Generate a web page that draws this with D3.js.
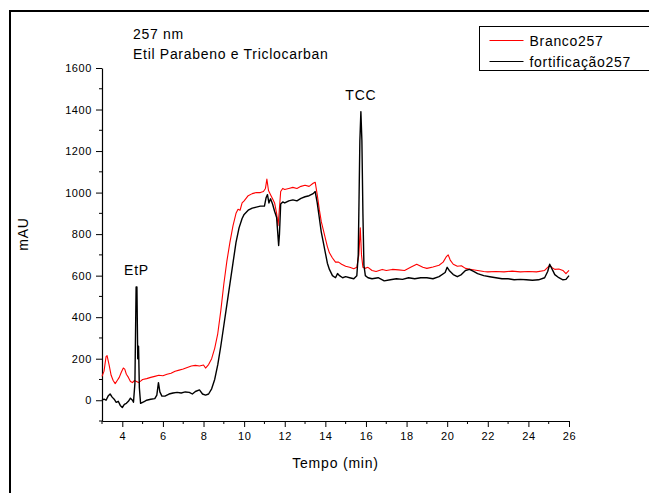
<!DOCTYPE html>
<html>
<head>
<meta charset="utf-8">
<script src="https://cdn.jsdelivr.net/npm/d3@7"></script>
<style>
  body { margin: 0; background: #fff; }
  text { font-family: "Liberation Sans", Arial, sans-serif; fill: #000; }
</style>
</head>
<body>
<div id="chart"></div>
<script>
// Cromatograma 257 nm - branco vs fortificação
const seriesNames = ["Branco257", "fortificação257"];
const seriesColors = ["#ff0000", "#000000"];

const brancoT = [3.0, 3.1, 3.2, 3.25, 3.35, 3.45, 3.55, 3.65, 3.75, 3.85, 3.95, 4.05, 4.12, 4.2, 4.3, 4.4, 4.5, 4.6, 4.7, 4.8, 4.9,
  5.0, 5.2, 5.4, 5.6, 5.8, 6.0, 6.2, 6.4, 6.6, 6.8, 7.0, 7.2, 7.4, 7.6, 7.8, 8.0, 8.1, 8.25, 8.4, 8.55, 8.7, 8.85,
  9.0, 9.15, 9.3, 9.45, 9.6, 9.7, 9.8, 9.9, 10.0, 10.2, 10.4, 10.6, 10.8, 10.95, 11.05, 11.12, 11.2, 11.3, 11.4, 11.5,
  11.6, 11.67, 11.72, 11.8, 11.9, 12.0, 12.2, 12.4, 12.6, 12.8, 13.0, 13.2, 13.4, 13.5, 13.6, 13.7, 13.8, 13.9, 14.0,
  14.1, 14.2, 14.35, 14.5, 14.65, 14.8, 15.0, 15.2, 15.4, 15.55, 15.65, 15.72, 15.78, 15.85, 15.95, 16.1, 16.3, 16.5,
  16.8, 17.0, 17.3, 17.6, 17.9, 18.2, 18.5, 18.8, 19.0, 19.3, 19.6, 19.8, 19.95, 20.05, 20.15, 20.3, 20.5, 20.7, 20.9,
  21.2, 21.5, 21.8, 22.0, 22.4, 22.8, 23.2, 23.6, 24.0, 24.4, 24.8, 24.95, 25.05, 25.15, 25.3, 25.5, 25.7, 25.85, 26.0];
const brancoV = [115, 140, 210, 215, 170, 120, 95, 80, 95, 110, 135, 155, 150, 125, 110, 90, 85, 95, 90, 85, 92,
  100, 104, 110, 115, 120, 118, 125, 130, 140, 145, 150, 158, 165, 168, 165, 170, 155, 172, 200, 250, 320, 430,
  560, 670, 760, 840, 900, 920, 915, 950, 960, 985, 995, 1000, 1000, 1005, 1020, 1065, 1010, 990, 970, 950,
  900, 840, 900, 1005, 1020, 1015, 1020, 1025, 1020, 1030, 1035, 1030, 1045, 1050, 990, 920, 860, 820, 780,
  740, 710, 685, 665, 665, 655, 645, 640, 633, 640, 700, 830, 700, 640, 635, 640, 625, 620,
  630, 625, 630, 628, 625, 640, 655, 640, 635, 642, 650, 665, 690, 700, 675, 655, 645, 648, 635,
  630, 625, 620, 618, 620, 618, 622, 618, 620, 618, 625, 640, 650, 640, 630, 632, 625, 610, 625];

const fortT = [3.0, 3.1, 3.2, 3.3, 3.4, 3.5, 3.6, 3.7, 3.8, 3.9, 4.0, 4.1, 4.2, 4.3, 4.4, 4.5, 4.55, 4.62, 4.68, 4.72, 4.76,
  4.8, 4.84, 4.9, 5.0, 5.1, 5.2, 5.4, 5.6, 5.7, 5.78, 5.85, 5.95, 6.1, 6.3, 6.5, 6.7, 6.9, 7.1, 7.3, 7.45, 7.6, 7.8,
  7.95, 8.1, 8.25, 8.4, 8.55, 8.7, 8.85, 9.0, 9.15, 9.3, 9.45, 9.6, 9.75, 9.9, 10.0, 10.2, 10.4, 10.6, 10.8, 11.0,
  11.08, 11.15, 11.22, 11.3, 11.4, 11.5, 11.6, 11.66, 11.7, 11.74, 11.8, 11.9, 12.0, 12.2, 12.4, 12.6, 12.8, 13.0,
  13.2, 13.4, 13.5, 13.6, 13.7, 13.8, 13.9, 14.0, 14.1, 14.2, 14.35, 14.5, 14.6, 14.7, 14.85, 15.0, 15.2, 15.4, 15.55,
  15.62, 15.7, 15.75, 15.8, 15.85, 15.9, 15.97, 16.1, 16.3, 16.6, 16.9, 17.2, 17.5, 17.8, 18.1, 18.4, 18.7, 19.0,
  19.3, 19.6, 19.9, 20.0, 20.1, 20.3, 20.5, 20.7, 20.9, 21.1, 21.3, 21.5, 21.8, 22.1, 22.4, 22.7, 23.0, 23.3, 23.6,
  23.9, 24.2, 24.5, 24.8, 24.95, 25.05, 25.15, 25.3, 25.5, 25.7, 25.85, 26.0];
const fortV = [0, 5, 0, 20, 30, 15, 5, -10, -5, -25, -35, -20, -15, -5, 10, 0, -10, 80, 545, 545, 200,
  260, 60, -15, -10, -5, 0, 5, 8, 25, 85, 40, 20, 20, 30, 35, 38, 35, 40, 38, 30, 42, 50,
  30, 25, 30, 55, 100, 170, 260, 360, 460, 560, 660, 760, 830, 875, 895, 915, 925, 930, 935, 935,
  975, 990, 950, 970, 945, 910, 880, 800, 745, 800, 945, 955, 950, 960, 965, 960, 972, 980,
  985, 995, 1005, 950, 880, 810, 760, 710, 660, 630, 600, 590, 610, 600, 590, 595, 590, 585, 600,
  700, 1250, 1390, 1250, 900, 650, 600, 590, 585, 590, 575, 580, 585, 582, 590, 585, 590, 590,
  585, 595, 615, 640, 625, 605, 595, 605, 625, 630, 620, 610, 600, 595, 590, 585, 585, 580, 582,
  580, 578, 580, 590, 620, 655, 635, 605, 590, 580, 582, 600];

const xTicks = [4, 6, 8, 10, 12, 14, 16, 18, 20, 22, 24, 26];
const xMinor = [3, 5, 7, 9, 11, 13, 15, 17, 19, 21, 23, 25];
const yTicks = [0, 200, 400, 600, 800, 1000, 1200, 1400, 1600];
const yMinor = [-100, 100, 300, 500, 700, 900, 1100, 1300, 1500];
const titleLines = ["257 nm", "Etil Parabeno e Triclocarban"];
const peakLabels = [{ label: "EtP", t: 4.7, v: 545 }, { label: "TCC", t: 15.75, v: 1390 }];

const width = 649, height = 493;
const plot = { left: 102, right: 569, top: 68, bottom: 421 };

const svg = d3.select("#chart").append("svg")
  .attr("width", width)
  .attr("height", height);

svg.append("rect")
  .attr("x", 10).attr("y", 11)
  .attr("width", 700).attr("height", 600)
  .attr("fill", "#fff")
  .attr("stroke", "#000")
  .attr("stroke-width", 2);

const x = d3.scaleLinear().domain([3, 26]).range([plot.left, plot.right]);
const y = d3.scaleLinear().domain([-100, 1600]).range([plot.bottom, plot.top]);

// axes
const xAxis = svg.append("g")
  .attr("transform", `translate(0,${plot.bottom})`)
  .call(d3.axisBottom(x).tickValues(xTicks).tickFormat(d3.format("d"))
    .tickSize(6).tickSizeOuter(0).tickPadding(5));
xAxis.append("g").selectAll("line")
  .data(xMinor).enter().append("line")
  .attr("x1", d => x(d)).attr("x2", d => x(d))
  .attr("y1", 0).attr("y2", 3)
  .attr("stroke", "#000");

const yAxis = svg.append("g")
  .attr("transform", `translate(${plot.left},0)`)
  .call(d3.axisLeft(y).tickValues(yTicks).tickFormat(d3.format("d"))
    .tickSize(6).tickSizeOuter(0).tickPadding(4));
yAxis.append("g").selectAll("line")
  .data(yMinor).enter().append("line")
  .attr("y1", d => y(d)).attr("y2", d => y(d))
  .attr("x1", 0).attr("x2", -3)
  .attr("stroke", "#000");

svg.selectAll(".domain").attr("stroke", "#000").attr("stroke-width", 1.2);
svg.selectAll(".tick line").attr("stroke", "#000");
svg.selectAll(".tick text")
  .attr("font-size", "11px")
  .attr("letter-spacing", "0.6px")
  .attr("fill", "#000")
  .style("font-family", "'Liberation Sans', Arial, sans-serif");

// traces
const line = d3.line().x(d => x(d[0])).y(d => y(d[1]));
const traces = [
  d3.zip(brancoT, brancoV),
  d3.zip(fortT, fortV)
];
traces.forEach((pts, i) => {
  svg.append("path")
    .datum(pts)
    .attr("d", line)
    .attr("fill", "none")
    .attr("stroke", seriesColors[i])
    .attr("stroke-width", i === 1 ? 1.4 : 1.1)
    .attr("stroke-linejoin", "round");
});

// peak labels
svg.selectAll(".peak")
  .data(peakLabels).enter().append("text")
  .attr("x", d => x(d.t))
  .attr("y", d => y(d.v) - 12)
  .attr("text-anchor", "middle")
  .attr("font-size", "14px")
  .attr("letter-spacing", "0.8px")
  .text(d => d.label);

// title
svg.selectAll(".title")
  .data(titleLines).enter().append("text")
  .attr("x", 133)
  .attr("y", (d, i) => 39 + i * 20)
  .attr("font-size", "14px")
  .attr("letter-spacing", "0.7px")
  .text(d => d);

// axis titles
svg.append("text")
  .attr("x", (plot.left + plot.right) / 2)
  .attr("y", 468)
  .attr("text-anchor", "middle")
  .attr("font-size", "14px")
  .attr("letter-spacing", "0.8px")
  .text("Tempo (min)");

svg.append("text")
  .attr("transform", "translate(28,234) rotate(-90)")
  .attr("text-anchor", "middle")
  .attr("font-size", "14px")
  .attr("letter-spacing", "0.8px")
  .text("mAU");

// legend
const legend = svg.append("g").attr("transform", "translate(479.5,26.5)");
legend.append("rect")
  .attr("width", 200).attr("height", 44)
  .attr("fill", "#fff").attr("stroke", "#000");
seriesNames.forEach((name, i) => {
  legend.append("line")
    .attr("x1", 10).attr("x2", 44)
    .attr("y1", 14 + i * 21).attr("y2", 14 + i * 21)
    .attr("stroke", seriesColors[i]).attr("stroke-width", 1.2);
  legend.append("text")
    .attr("x", 50).attr("y", 19 + i * 21)
    .attr("font-size", "14px")
    .attr("letter-spacing", "0.7px")
    .text(name);
});
</script>
</body>
</html>
